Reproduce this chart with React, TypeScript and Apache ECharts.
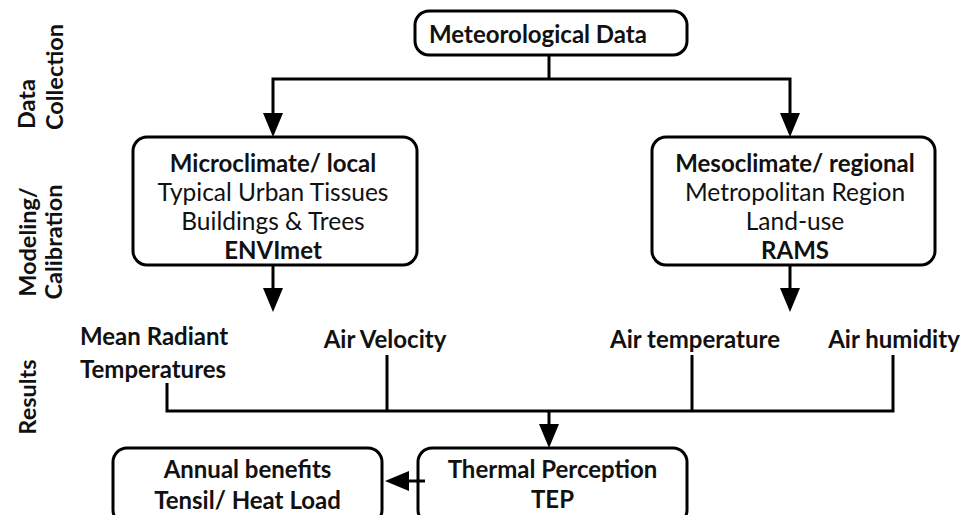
import React, { useEffect, useRef } from "react";
import * as echarts from "echarts";

// ---- content ----
const stageLabels: string[][] = [["Data", "Collection"], ["Modeling/", "Calibration"], ["Results"]];
const sourceLabel = "Meteorological Data";
const microLines = ["Microclimate/ local", "Typical Urban Tissues", "Buildings & Trees", "ENVImet"];
const mesoLines = ["Mesoclimate/ regional", "Metropolitan Region", "Land-use", "RAMS"];
const boxBold = [true, false, false, true];
const resultLabels = ["Mean Radiant", "Temperatures", "Air Velocity", "Air temperature", "Air humidity"];
const perceptionLines = ["Thermal Perception", "TEP"];
const benefitLines = ["Annual benefits", "Tensil/ Heat Load"];

const FONT = "Lato";
const INK = "#000";
const LW = 3;
const FS = 24;

function rbox(x: number, y: number, w: number, h: number): any {
  return {
    type: "rect",
    shape: { x, y, width: w, height: h, r: 14 },
    style: { fill: "#fff", stroke: INK, lineWidth: LW },
    z: 1,
  };
}

function txt(x: number, y: number, text: string, bold: boolean, size = FS, align = "center", rotation = 0): any {
  return {
    type: "text",
    x,
    y,
    rotation,
    style: {
      text,
      fill: "#111",
      font: `${bold ? "bold " : ""}${size}px ${FONT}`,
      fontFamily: FONT,
      fontSize: size,
      fontWeight: bold ? "bold" : "normal",
      align,
      verticalAlign: "middle",
    },
    z: 5,
  };
}

function seg(points: number[][]): any {
  return {
    type: "polyline",
    shape: { points },
    style: { stroke: INK, lineWidth: LW, fill: null, lineJoin: "miter" },
    z: 3,
  };
}

function headDown(x: number, tipY: number): any {
  return {
    type: "polygon",
    shape: { points: [[x - 10, tipY - 24], [x + 10, tipY - 24], [x, tipY]] },
    style: { fill: INK },
    z: 4,
  };
}

function headLeft(tipX: number, y: number): any {
  return {
    type: "polygon",
    shape: { points: [[tipX + 24, y - 10], [tipX + 24, y + 10], [tipX, y]] },
    style: { fill: INK },
    z: 4,
  };
}

function buildGraphics(): any[] {
  const g: any[] = [];
  // stage labels (rotated)
  const stagePos = [
    [[26, 104], [54, 77]],
    [[27, 242], [53, 242]],
    [[27, 397]],
  ];
  stageLabels.forEach((lines, i) => {
    lines.forEach((l, j) => {
      const [x, y] = stagePos[i][j];
      g.push(txt(x, y, l, true, 23.5, "center", Math.PI / 2));
    });
  });

  // source box
  g.push(rbox(415, 11, 272, 44));
  g.push(txt(538, 33, sourceLabel, true));
  g.push(seg([[549, 55], [549, 79]]));
  g.push(seg([[273, 118], [273, 79], [790, 79], [790, 118]]));
  g.push(headDown(273, 137));
  g.push(headDown(790, 137));

  // model boxes
  g.push(rbox(133, 137, 284, 128));
  g.push(rbox(652, 137, 283, 128));
  const lineY = [162, 191, 220, 249];
  microLines.forEach((l, i) => g.push(txt(273, lineY[i], l, boxBold[i], boxBold[i] ? FS : 24.5)));
  mesoLines.forEach((l, i) => g.push(txt(795, lineY[i], l, boxBold[i], boxBold[i] ? FS : 24.5)));
  g.push(seg([[273, 265], [273, 295]]));
  g.push(seg([[790, 265], [790, 295]]));
  g.push(headDown(273, 312));
  g.push(headDown(790, 312));

  // results
  g.push(txt(80, 335, resultLabels[0], true, FS, "left"));
  g.push(txt(80, 368, resultLabels[1], true, FS, "left"));
  g.push(txt(385, 338, resultLabels[2], true));
  g.push(txt(695, 338, resultLabels[3], true));
  g.push(txt(894, 338, resultLabels[4], true));
  g.push(seg([[167, 383], [167, 411], [893, 411], [893, 355]]));
  g.push(seg([[387, 355], [387, 411]]));
  g.push(seg([[692, 355], [692, 411]]));
  g.push(seg([[549, 411], [549, 430]]));
  g.push(headDown(549, 448));

  // bottom boxes
  g.push(rbox(113, 448, 269, 76));
  g.push(rbox(418, 448, 269, 76));
  g.push(txt(247.5, 468, benefitLines[0], true));
  g.push(txt(247.5, 499, benefitLines[1], true));
  g.push(txt(552.5, 468, perceptionLines[0], true));
  g.push(txt(552.5, 498, perceptionLines[1], true));
  g.push(seg([[425, 481], [402, 481]]));
  g.push(headLeft(385, 481));
  return g;
}

export default function App() {
  const ref = useRef<HTMLDivElement>(null);
  useEffect(() => {
    if (!ref.current) return;
    const chart = echarts.init(ref.current, null, { renderer: "svg" });
    chart.setOption({
      animation: false,
      backgroundColor: "#fff",
      graphic: { elements: buildGraphics() },
    });
    return () => chart.dispose();
  }, []);
  return (
    <div
      ref={ref}
      style={{ position: "absolute", left: 0, top: 0, width: 963, height: 515 }}
    />
  );
}
